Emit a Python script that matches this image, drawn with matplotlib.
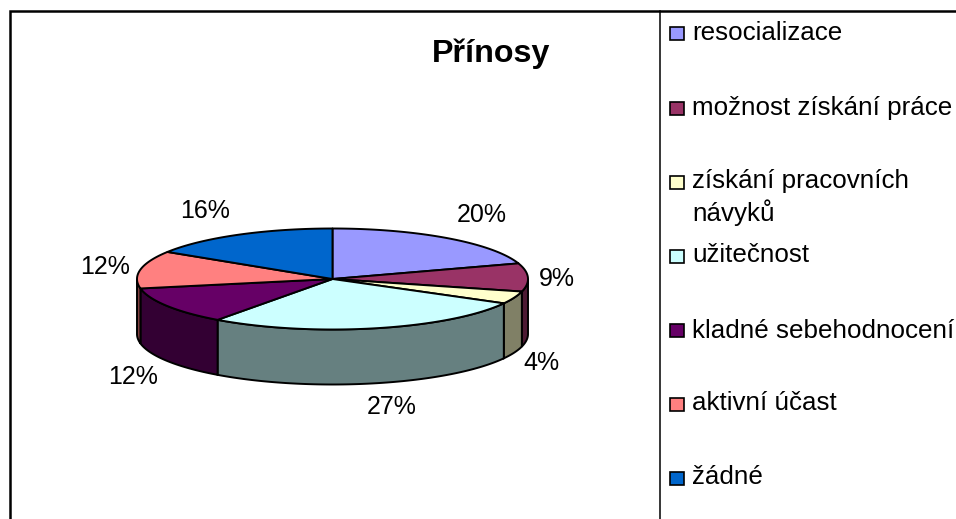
import numpy as np
import matplotlib
matplotlib.use('Agg')
import matplotlib.pyplot as plt
from matplotlib.patches import Polygon, Rectangle

plt.rcParams['font.family'] = ['Liberation Sans', 'DejaVu Sans']

title = 'Přínosy'
categories = ['resocializace', 'možnost získání práce', 'získání pracovních\nnávyků', 'užitečnost',
              'kladné sebehodnocení', 'aktivní účast', 'žádné']
values = [20, 9, 4, 27, 12, 12, 16]
top_colors = ['#9999FF', '#993366', '#FFFFCC', '#CCFFFF', '#660066', '#FF8080', '#0066CC']
side_colors = ['#4D4D80', '#4D1A33', '#808066', '#668080', '#330033', '#804040', '#003366']

# layout in pixels of the reference
cx, cy, rx, ry, depth = 332.5, 279, 195.5, 50.5, 55
label_xy = [(482, 214), (557, 278), (541, 362), (392, 405), (133, 375), (105, 265), (205, 210)]
legend_y = [31, 107, 196, 253, 329, 402, 476]
swatch_y = [33, 108, 182, 256, 330, 404, 478]

fig = plt.figure(figsize=(9.56, 5.19), dpi=100)
ax = fig.add_axes([0, 0, 1, 1])
ax.set_xlim(0, 956)
ax.set_ylim(519, 0)
ax.axis('off')


def rim(a0, a1):
    t = np.radians(np.linspace(a0, a1, max(int(a1 - a0) * 2, 2)))
    return np.column_stack([cx + rx * np.sin(t), cy - ry * np.cos(t)])


angles = np.concatenate([[0], np.cumsum(values) * 360 / sum(values)])
lw = 1.4

# side walls, only the front half is visible
for i in range(len(values)):
    a0, a1 = max(angles[i], 90), min(angles[i + 1], 270)
    if a1 <= a0:
        continue
    edge = rim(a0, a1)
    low = edge[::-1] + [0, depth]
    ax.add_patch(Polygon(np.vstack([edge, low]), closed=True, fc=side_colors[i], ec='black', lw=lw, zorder=2))

# top face
for i in range(len(values)):
    pts = np.vstack([[cx, cy], rim(angles[i], angles[i + 1])])
    ax.add_patch(Polygon(pts, closed=True, fc=top_colors[i], ec='black', lw=lw, joinstyle='round', zorder=3))

for i, v in enumerate(values):
    ax.text(label_xy[i][0], label_xy[i][1] + 1.5, f'{v}%', fontsize=18, ha='center', va='center', color='black')

ax.text(491.5, 53.5, title, fontsize=23.2, fontweight='bold', ha='center', va='center', color='black')

# outer frame and legend divider
ax.plot([10.5, 10.5, 956], [519, 11, 11], color='black', lw=1.8, solid_joinstyle='miter', zorder=5)
ax.plot([660, 660], [11, 519], color='black', lw=1.1, zorder=5)

for i, name in enumerate(categories):
    ax.add_patch(Rectangle((670, swatch_y[i] - 6.5), 14, 13, fc=top_colors[i], ec='black', lw=1.2, zorder=4))
    ax.text(692.5, legend_y[i] + 1.5, name, fontsize=18.7, ha='left', va='center', color='black', linespacing=1.27)

fig.savefig('out.png', dpi=100)
